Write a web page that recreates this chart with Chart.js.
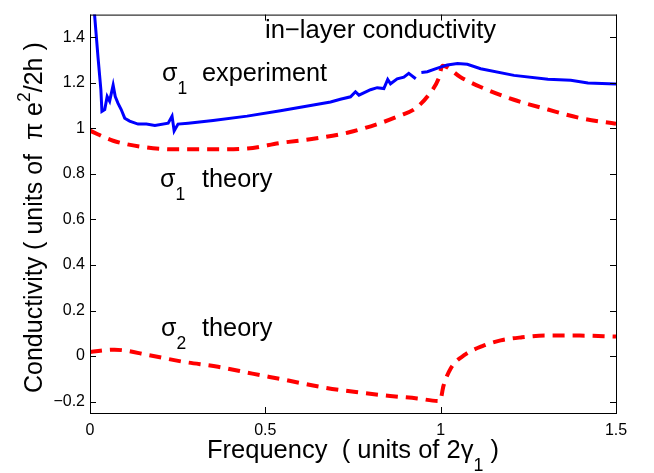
<!DOCTYPE html>
<html>
<head>
<meta charset="utf-8">
<script src="https://cdn.jsdelivr.net/npm/chart.js@4.4.1/dist/chart.umd.min.js"></script>
<style>
  html, body { margin: 0; padding: 0; background: #fff; }
  canvas { display: block; }
</style>
</head>
<body>
<canvas id="chart" width="654" height="473"></canvas>
<script>
const FONT = "'Liberation Sans', Arial, sans-serif";

// sigma_1 experiment (blue, null = gap in the measured curve)
const expX = [0.010, 0.013, 0.023, 0.031, 0.034, 0.042, 0.049, 0.056, 0.066, 0.072, 0.080, 0.089, 0.099, 0.113, 0.137, 0.161, 0.185, 0.223, 0.234, 0.240, 0.251, 0.280, 0.351, 0.448, 0.543, 0.637, 0.686, 0.714, 0.743, 0.757, 0.767, 0.800, 0.819, 0.838, 0.849, 0.857, 0.876, 0.895, 0.909, 0.929, 0.937, 0.945, 0.962, 0.991, 1.019, 1.048, 1.076, 1.114, 1.209, 1.306, 1.371, 1.420, 1.500];
const expY = [1.60, 1.50, 1.31, 1.17, 1.075, 1.083, 1.14, 1.12, 1.19, 1.14, 1.11, 1.083, 1.045, 1.032, 1.019, 1.019, 1.013, 1.023, 1.054, 0.989, 1.019, 1.023, 1.035, 1.054, 1.078, 1.103, 1.116, 1.128, 1.139, 1.161, 1.146, 1.170, 1.179, 1.175, 1.215, 1.196, 1.218, 1.225, 1.242, 1.218, null, 1.246, 1.249, 1.265, 1.279, 1.285, 1.282, 1.262, 1.233, 1.216, 1.212, 1.200, 1.195];

// sigma_1 theory (red dashed)
const thr1X = [0, 0.066, 0.163, 0.257, 0.351, 0.449, 0.543, 0.637, 0.734, 0.829, 0.880, 0.929, 0.966, 0.994, 1.005, 1.057, 1.114, 1.209, 1.306, 1.400, 1.500];
const thr1Y = [0.99, 0.946, 0.916, 0.908, 0.908, 0.912, 0.936, 0.955, 0.981, 1.024, 1.054, 1.089, 1.148, 1.218, 1.275, 1.225, 1.182, 1.126, 1.083, 1.045, 1.02];

// sigma_2 theory (red dashed)
const thr2X = [0, 0.070, 0.168, 0.266, 0.365, 0.463, 0.561, 0.659, 0.758, 0.856, 0.933, 0.998, 1.008, 1.029, 1.067, 1.119, 1.171, 1.229, 1.298, 1.397, 1.500];
const thr2Y = [0.018, 0.028, 0.004, -0.025, -0.047, -0.077, -0.106, -0.136, -0.158, -0.175, -0.186, -0.198, -0.131, -0.053, 0.004, 0.044, 0.069, 0.082, 0.090, 0.090, 0.086];

const xTicks = [0, 0.5, 1, 1.5];
const xTickLabels = ['0', '0.5', '1', '1.5'];
const yTicks = [-0.2, 0, 0.2, 0.4, 0.6, 0.8, 1, 1.2, 1.4];
const yTickLabels = ['\u22120.2', '0', '0.2', '0.4', '0.6', '0.8', '1', '1.2', '1.4'];

const pts = (xs, ys) => xs.map((x, i) => ({ x: x, y: ys[i] }));

// draws text made of pieces, some as sub/superscripts
function drawRich(ctx, x, y, parts, size) {
  let cx = x;
  parts.forEach(p => {
    const s = p.sub || p.sup ? size * 0.7 : size;
    ctx.font = s + 'px ' + FONT;
    const dy = p.sub ? size * 0.5 : (p.sup ? -size * 0.5 : 0);
    ctx.fillText(p.t, cx, y + dy);
    cx += ctx.measureText(p.t).width;
  });
}

const matlabFrame = {
  id: 'matlabFrame',
  afterDraw(chart) {
    const ctx = chart.ctx;
    const a = chart.chartArea;
    const xs = chart.scales.x, ys = chart.scales.y;
    ctx.save();
    ctx.strokeStyle = '#000';
    ctx.lineWidth = 1;
    ctx.strokeRect(a.left + 0.5, a.top + 0.5, a.right - a.left, a.bottom - a.top);
    ctx.beginPath();
    const tl = 6;
    xTicks.forEach(v => {
      const px = Math.round(xs.getPixelForValue(v)) + 0.5;
      ctx.moveTo(px, a.bottom); ctx.lineTo(px, a.bottom - tl);
      ctx.moveTo(px, a.top); ctx.lineTo(px, a.top + tl);
    });
    yTicks.forEach(v => {
      const py = Math.round(ys.getPixelForValue(v)) + 0.5;
      ctx.moveTo(a.left, py); ctx.lineTo(a.left + tl, py);
      ctx.moveTo(a.right, py); ctx.lineTo(a.right - tl, py);
    });
    ctx.stroke();

    ctx.fillStyle = '#000';
    ctx.textBaseline = 'alphabetic';
    ctx.textAlign = 'left';
    drawRich(ctx, 265, 38, [{ t: 'in\u2212layer conductivity' }], 25.6);
    drawRich(ctx, 162, 81, [{ t: '\u03c3' }, { t: '1', sub: true }], 25);
    drawRich(ctx, 202, 81, [{ t: 'experiment' }], 25.3);
    drawRich(ctx, 160, 187, [{ t: '\u03c3' }, { t: '1', sub: true }], 25);
    drawRich(ctx, 202, 187, [{ t: 'theory' }], 25.3);
    drawRich(ctx, 161, 336, [{ t: '\u03c3' }, { t: '2', sub: true }], 25);
    drawRich(ctx, 202, 336, [{ t: 'theory' }], 25.3);

    // axis titles
    drawRich(ctx, 207, 458, [{ t: 'Frequency  ( units of 2\u03b3' }, { t: '1', sub: true }, { t: ' )' }], 25.5);
    ctx.save();
    ctx.translate(42, 393);
    ctx.rotate(-Math.PI / 2);
    drawRich(ctx, 0, 0, [{ t: 'Conductivity ( units of  \u03c0 e' }, { t: '2', sup: true }, { t: '/2h )' }], 25);
    ctx.restore();
    ctx.restore();
  }
};

new Chart(document.getElementById('chart').getContext('2d'), {
  type: 'line',
  data: {
    datasets: [{
      data: pts(expX, expY),
      borderColor: '#0000ff',
      borderWidth: 3,
      pointRadius: 0,
      tension: 0,
      spanGaps: false
    }, {
      data: pts(thr1X, thr1Y),
      borderColor: '#ff0000',
      borderWidth: 4,
      borderDash: [12, 8],
      pointRadius: 0,
      cubicInterpolationMode: 'monotone'
    }, {
      data: pts(thr2X, thr2Y),
      borderColor: '#ff0000',
      borderWidth: 4,
      borderDash: [12, 8],
      pointRadius: 0,
      cubicInterpolationMode: 'monotone'
    }]
  },
  options: {
    responsive: false,
    animation: false,
    devicePixelRatio: 1,
    layout: { padding: { top: 5, right: 38, left: 0, bottom: 0 } },
    plugins: { legend: { display: false }, tooltip: { enabled: false } },
    scales: {
      x: {
        type: 'linear',
        min: 0,
        max: 1.5,
        afterBuildTicks: s => { s.ticks = xTicks.map(v => ({ value: v })); },
        afterFit: s => { s.height = 60; },
        grid: { display: false, drawTicks: false },
        border: { display: false },
        ticks: {
          padding: 8,
          color: '#000',
          font: { family: FONT, size: 16 },
          callback: (v, i) => xTickLabels[i]
        }
      },
      y: {
        type: 'linear',
        min: -0.25,
        max: 1.5,
        afterBuildTicks: s => { s.ticks = yTicks.map(v => ({ value: v })); },
        afterFit: s => { s.width = 90; },
        grid: { display: false, drawTicks: false },
        border: { display: false },
        ticks: {
          padding: 5,
          color: '#000',
          font: { family: FONT, size: 16 },
          callback: (v, i) => yTickLabels[i]
        }
      }
    }
  },
  plugins: [matlabFrame]
});
</script>
</body>
</html>
